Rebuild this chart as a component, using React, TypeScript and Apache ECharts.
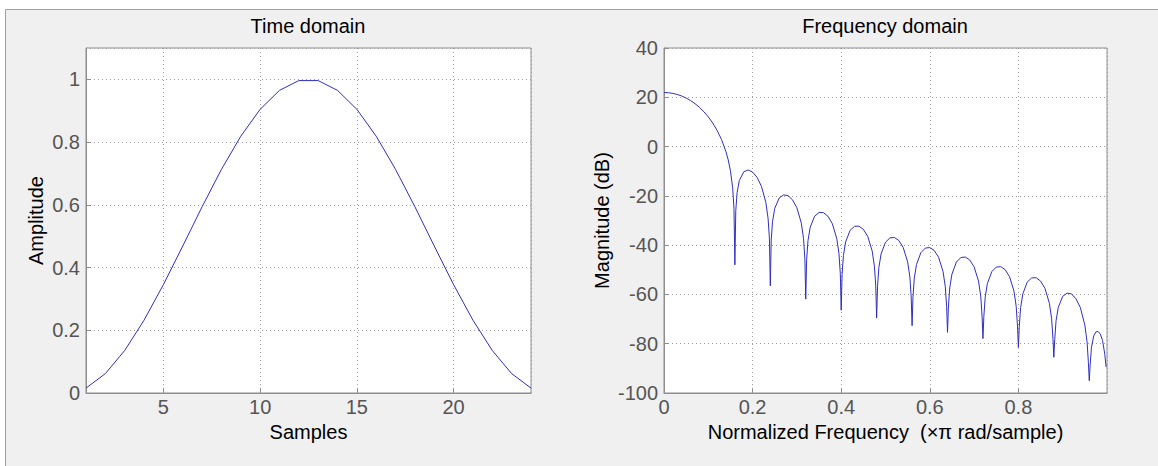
import { useEffect, useRef } from "react";
import * as echarts from "echarts";

// ---- Time domain (window samples) ----
const timeSamples = [1, 2, 3, 4, 5, 6, 7, 8, 9, 10, 11, 12, 13, 14, 15, 16, 17, 18, 19, 20, 21, 22, 23, 24];
const timeAmplitude = [
  0.0157, 0.0618, 0.1355, 0.2321, 0.3455, 0.4686, 0.5937, 0.7129, 0.8187, 0.9045, 0.9649, 0.9961,
  0.9961, 0.9649, 0.9045, 0.8187, 0.7129, 0.5937, 0.4686, 0.3455, 0.2321, 0.1355, 0.0618, 0.0157,
];

// ---- Frequency domain (normalized frequency, magnitude dB) ----
const freqX = [
  0, 0.01, 0.02, 0.03, 0.04, 0.05, 0.06, 0.07, 0.08, 0.09, 0.1, 0.11, 0.12, 0.13, 0.14, 0.145, 0.15, 0.155, 0.158, 0.16,
  0.162, 0.165, 0.17, 0.18, 0.19, 0.2, 0.21, 0.22, 0.23, 0.235, 0.238, 0.24,
  0.242, 0.245, 0.25, 0.26, 0.27, 0.28, 0.29, 0.3, 0.31, 0.315, 0.318, 0.32,
  0.322, 0.325, 0.33, 0.34, 0.35, 0.36, 0.37, 0.38, 0.39, 0.395, 0.398, 0.4,
  0.402, 0.405, 0.41, 0.42, 0.43, 0.44, 0.45, 0.46, 0.47, 0.475, 0.478, 0.48,
  0.482, 0.485, 0.49, 0.5, 0.51, 0.52, 0.53, 0.54, 0.55, 0.555, 0.558, 0.56,
  0.562, 0.565, 0.57, 0.58, 0.59, 0.6, 0.61, 0.62, 0.63, 0.635, 0.638, 0.64,
  0.642, 0.645, 0.65, 0.66, 0.67, 0.68, 0.69, 0.7, 0.71, 0.715, 0.718, 0.72,
  0.722, 0.725, 0.73, 0.74, 0.75, 0.76, 0.77, 0.78, 0.79, 0.795, 0.798, 0.8,
  0.802, 0.805, 0.81, 0.82, 0.83, 0.84, 0.85, 0.86, 0.87, 0.875, 0.878, 0.88,
  0.882, 0.885, 0.89, 0.9, 0.91, 0.92, 0.93, 0.94, 0.95, 0.955, 0.958, 0.96,
  0.962, 0.965, 0.97, 0.975, 0.98, 0.985, 0.99, 0.995, 0.998,
];
const freqDb = [
  21.94, 21.85, 21.59, 21.14, 20.52, 19.69, 18.66, 17.41, 15.92, 14.14, 12.04, 9.55, 6.53, 2.79, -2.16, -5.45, -9.82, -16.7, -25.25, -48.0,
  -26.04, -18.69, -13.81, -10.24, -9.49, -10.37, -12.45, -16.15, -22.72, -29.2, -37.47, -56.5,
  -37.95, -30.38, -25.09, -20.88, -19.59, -19.93, -21.58, -24.85, -31.07, -37.37, -45.53, -61.9,
  -45.88, -38.22, -32.78, -28.27, -26.73, -26.82, -28.25, -31.3, -37.33, -43.54, -51.65, -66.4,
  -51.92, -44.22, -38.7, -34.03, -32.35, -32.29, -33.59, -36.51, -42.43, -48.58, -56.65, -69.6,
  -56.88, -49.15, -43.58, -38.81, -37.04, -36.89, -38.11, -40.96, -46.81, -52.93, -60.99, -72.7,
  -61.19, -53.44, -47.83, -43.0, -41.18, -40.98, -42.16, -44.96, -50.78, -56.88, -64.92, -75.4,
  -65.12, -57.36, -51.74, -46.88, -45.04, -44.82, -45.99, -48.79, -54.6, -60.7, -68.74, -77.9,
  -68.94, -61.19, -55.57, -50.73, -48.91, -48.72, -49.93, -52.77, -58.64, -64.77, -72.83, -81.5,
  -73.05, -65.33, -59.75, -54.99, -53.29, -53.21, -54.57, -57.55, -63.63, -69.87, -77.99, -85.5,
  -78.31, -70.67, -65.24, -60.76, -59.46, -59.79, -61.77, -65.38, -72.5, -79.26, -87.69, -95.0,
  -88.55, -81.41, -76.81, -75.21, -75.02, -76.11, -78.72, -84.23, -89.5,
];

const FONT = "'Liberation Sans', Arial, Helvetica, sans-serif";
const BOX_GREY = "#8e8e8e";
const GRID_GREY = "#a0a0a0";
const TICK_TEXT = "#555555";
const LINE_BLUE = "#2f2fc0";

export default function App() {
  const ref = useRef<HTMLDivElement>(null);

  useEffect(() => {
    if (!ref.current) return;
    const chart = echarts.init(ref.current, null, { renderer: "svg" });

    const axisLine = { show: true, onZero: false, lineStyle: { color: BOX_GREY, width: 1 } };
    const axisTick = { show: true, inside: true, length: 5, lineStyle: { color: BOX_GREY, width: 1 } };
    const splitLine = { show: true, lineStyle: { type: [1, 3], color: GRID_GREY, width: 1 } };
    const labelBase = { color: TICK_TEXT, fontSize: 20, fontFamily: FONT };
    const nameStyle = { color: "#000000", fontSize: 20, fontFamily: FONT };

    chart.setOption({
      animation: false,
      backgroundColor: "#ffffff",
      textStyle: { fontFamily: FONT },
      graphic: {
        elements: [
          {
            type: "rect",
            z: -100,
            silent: true,
            shape: { x: 5.5, y: 9.5, width: 1160, height: 470 },
            style: { fill: "#f0f0f0", stroke: "#a0a0a0", lineWidth: 1 },
          },
        ],
      },
      title: [
        {
          text: "Time domain",
          left: 308,
          top: 16,
          textAlign: "center",
          padding: 0,
          textStyle: { fontSize: 20, fontWeight: "normal", color: "#000000", fontFamily: FONT },
        },
        {
          text: "Frequency domain",
          left: 885,
          top: 16,
          textAlign: "center",
          padding: 0,
          textStyle: { fontSize: 20, fontWeight: "normal", color: "#000000", fontFamily: FONT },
        },
      ],
      grid: [
        {
          left: 86,
          top: 48,
          width: 445,
          height: 345,
          show: true,
          backgroundColor: "#ffffff",
          borderColor: BOX_GREY,
          borderWidth: 1,
          containLabel: false,
          outerBoundsMode: "none",
        },
        {
          left: 664,
          top: 48,
          width: 443,
          height: 345,
          show: true,
          backgroundColor: "#ffffff",
          borderColor: BOX_GREY,
          borderWidth: 1,
          containLabel: false,
          outerBoundsMode: "none",
        },
      ],
      xAxis: [
        {
          type: "value",
          gridIndex: 0,
          min: 1,
          max: 24,
          splitNumber: 5,
          name: "Samples",
          nameLocation: "middle",
          nameGap: 26,
          nameTextStyle: nameStyle,
          axisLine,
          axisTick,
          splitLine,
          axisLabel: { ...labelBase, margin: 4, showMinLabel: false, showMaxLabel: false },
        },
        {
          type: "value",
          gridIndex: 1,
          min: 0,
          max: 1,
          interval: 0.2,
          name: "Normalized Frequency  (×π rad/sample)",
          nameLocation: "middle",
          nameGap: 26,
          nameTextStyle: nameStyle,
          axisLine,
          axisTick,
          splitLine,
          axisLabel: { ...labelBase, margin: 4, showMinLabel: true, showMaxLabel: false },
        },
      ],
      yAxis: [
        {
          type: "value",
          gridIndex: 0,
          min: 0,
          max: 1.1,
          interval: 0.2,
          name: "Amplitude",
          nameLocation: "middle",
          nameRotate: 90,
          nameGap: 40,
          nameTextStyle: nameStyle,
          axisLine,
          axisTick,
          splitLine,
          axisLabel: { ...labelBase, margin: 6, showMaxLabel: false },
        },
        {
          type: "value",
          gridIndex: 1,
          min: -100,
          max: 40,
          interval: 20,
          name: "Magnitude (dB)",
          nameLocation: "middle",
          nameRotate: 90,
          nameGap: 52,
          nameTextStyle: nameStyle,
          axisLine,
          axisTick,
          splitLine,
          axisLabel: { ...labelBase, margin: 6 },
        },
      ],
      series: [
        {
          type: "line",
          xAxisIndex: 0,
          yAxisIndex: 0,
          data: timeSamples.map((s, i) => [s, timeAmplitude[i]]),
          showSymbol: false,
          symbol: "none",
          silent: true,
          lineStyle: { color: LINE_BLUE, width: 1 },
        },
        {
          type: "line",
          xAxisIndex: 1,
          yAxisIndex: 1,
          data: freqX.map((f, i) => [f, freqDb[i]]),
          showSymbol: false,
          symbol: "none",
          silent: true,
          lineStyle: { color: LINE_BLUE, width: 1 },
        },
      ],
    });

    return () => chart.dispose();
  }, []);

  return (
    <div
      ref={ref}
      style={{ position: "fixed", left: 0, top: 0, width: 1158, height: 466 }}
    />
  );
}
